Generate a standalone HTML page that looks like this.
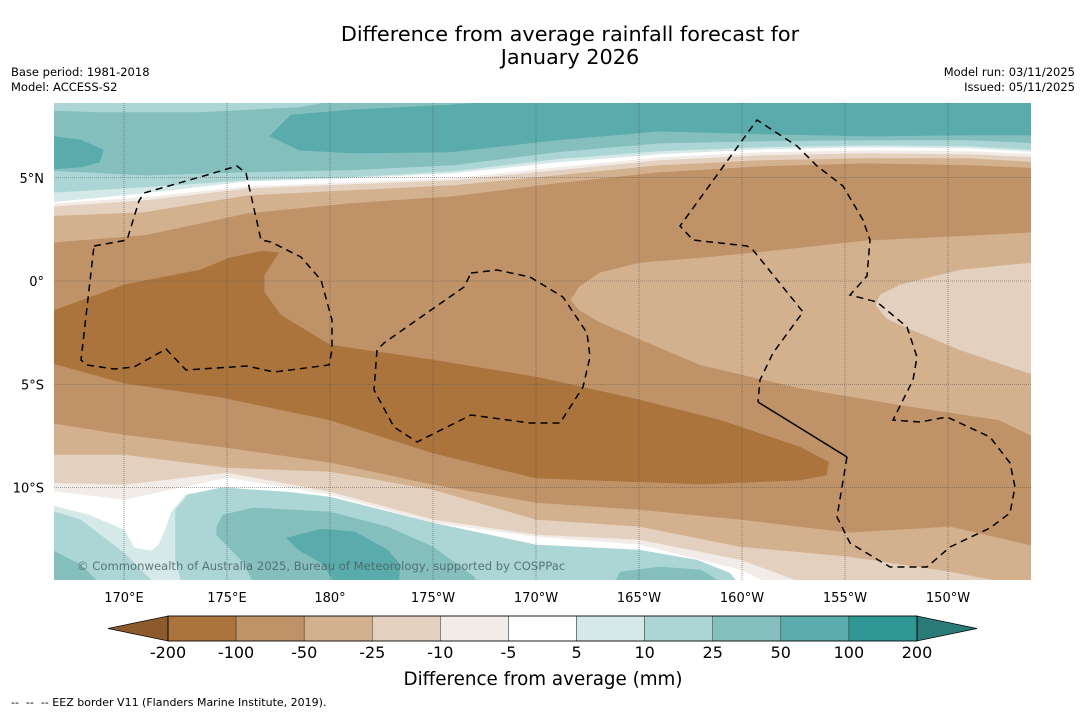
<!DOCTYPE html>
<html><head><meta charset="utf-8"><style>
body{margin:0;background:#fff;width:1085px;height:713px;overflow:hidden;font-family:"DejaVu Sans","Liberation Sans",sans-serif}
svg{position:absolute;left:0;top:0}
</style></head><body>
<svg id="chart" width="1085" height="713" viewBox="0 0 1085 713" font-family="DejaVu Sans, Liberation Sans, sans-serif">
<rect width="1085" height="713" fill="#fff"/>
<text x="570" y="41" font-size="20.8" text-anchor="middle">Difference from average rainfall forecast for</text>
<text x="570" y="64" font-size="20.8" text-anchor="middle">January 2026</text>
<text x="11" y="76" font-size="11.5">Base period: 1981-2018</text>
<text x="11" y="91" font-size="11.5">Model: ACCESS-S2</text>
<text x="1075" y="76" font-size="11.5" text-anchor="end">Model run: 03/11/2025</text>
<text x="1075" y="91" font-size="11.5" text-anchor="end">Issued: 05/11/2025</text>
<defs><clipPath id="mapclip"><rect x="54" y="103" width="977" height="477"/></clipPath></defs>
<g id="map" clip-path="url(#mapclip)"></g>
<g id="overlay" clip-path="url(#mapclip)" fill="none" stroke="#000" stroke-width="1.5">
<path stroke-dasharray="7,5" d="M94,246 L127,240 L139,201 L144,193 L207,175 L237,166 L246,173 L261,240 L271,242 L301,257 L321,280 L332,320 L332,350 L329,365 L274,372 L247,366 L186,370 L166,349 L134,367 L114,369 L87,365 L81,360 Z"/>
<path stroke-dasharray="7,5" d="M471,273 L497,270 L530,277 L563,297 L587,333 L590,357 L583,387 L560,423 L530,423 L471,415 L417,442 L394,427 L374,390 L377,350 L384,343 L464,287 Z"/>
<path stroke-dasharray="7,5" d="M847,457 L837,517 L850,543 L890,567 L927,567 L950,547 L990,528 L1010,513 L1015,487 L1010,463 L990,437 L947,417 L920,422 L893,420 L913,380 L917,357 L907,327 L877,302 L850,295 L867,276 L870,240 L863,220 L843,186 L817,166 L797,146 L757,120 L680,226 L693,240 L747,246 L753,250 L803,312 L773,353 L760,380 L758,402"/>
<path d="M758,402 L847,457"/>
</g>
<text x="77" y="570" font-size="11.6" fill="#4a6464" fill-opacity="0.85">© Commonwealth of Australia 2025, Bureau of Meteorology, supported by COSPPac</text>
<g id="axes" font-size="13"></g>
<g id="colorbar"></g>
<text x="543" y="685" font-size="18.3" text-anchor="middle">Difference from average (mm)</text>
<text x="11" y="706" font-size="11" xml:space="preserve">--  --  -- EEZ border V11 (Flanders Marine Institute, 2019).</text>
</svg>
<script>
// ---- data ----
const northLons = [166,171,176,181,186,191,196,201,206,211,214.5];
const north_m50 = [1.84,2.23,3.29,3.78,4.12,4.75,5.28,5.57,5.71,5.62,5.47];
const north_m25 = [3.15,3.34,4.16,4.41,4.65,5.13,5.62,5.86,5.96,5.96,5.76];
const north_m10 = [3.58,3.92,4.50,4.70,4.89,5.38,5.86,6.10,6.20,6.15,6.00];
const north_m5  = [3.73,4.07,4.60,4.79,4.99,5.52,6.00,6.25,6.34,6.30,6.15];
const north_p5  = [3.78,4.26,4.84,4.99,5.23,5.76,6.15,6.39,6.49,6.44,6.25];
const north_p10 = [4.26,4.55,4.89,5.04,5.33,5.91,6.30,6.49,6.59,6.54,6.34];
const north_p25 = [5.38,5.13,5.28,5.38,5.62,6.25,6.68,6.78,6.83,6.83,6.68];
const southLons = [166,170,175,180,185,190,195,199.9,205.2,210.1,214.5];
const south_m50 = [-6.83,-7.46,-8.09,-8.81,-9.88,-10.75,-11.09,-11.57,-12.20,-11.91,-12.93];
const south_m25 = [-8.43,-8.43,-9.06,-9.25,-10.12,-11.57,-11.91,-12.88,-13.37,-14.09,-14.96];
const south_m10 = [-9.78,-9.88,-9.30,-10.22,-11.57,-12.30,-12.54,-13.51,-15.45,-16.42,-16.42];
const south_m5  = [-10.12,-10.61,-9.54,-10.36,-11.72,-12.40,-12.78,-13.99,-16.5,-16.5,-16.5];
const topPatch = [[166,8.7],[180,8.7],[178.5,8.43],[173.7,8.19],[168.8,8.19],[166,8.28]];
const northBand100 = [[177.1,7.02],[178.1,8.04],[181,8.28],[185.8,8.52],[188.3,8.7],[214.5,8.7],[214.5,7.07],[211,7.07],[206,7.02],[201,7.12],[196,7.26],[191,6.83],[185.8,6.25],[181,6.2],[178.5,6.34]];
const northBlob100 = [[166,7.07],[167.9,6.83],[169,6.34],[168.8,5.76],[167.9,5.52],[166,5.38]];
const tongue50 = [[214.5,2.37],[211,2.18],[206,1.94],[201,1.40],[198,1.11],[195,0.87],[193.1,0.39],[192.1,-0.29],[191.7,-0.92],[192.1,-1.40],[193.1,-1.99],[198,-4.07],[202.8,-5.18],[207.7,-6.00],[212.5,-6.73],[214.5,-7.70]];
const blob25 = [[214.5,0.92],[210.6,0.53],[207.7,-0.19],[206.7,-0.68],[206.5,-1.16],[207,-1.79],[207.7,-2.13],[210.6,-3.34],[214.5,-4.65]];
const core200 = [[166,-1.65],[170,-0.19],[173.7,0.53],[175.1,1.11],[176.7,1.45],[177.5,1.36],[176.8,0.29],[176.8,-0.53],[177.6,-1.65],[180,-3.10],[185,-3.83],[190,-4.65],[195,-5.76],[198.9,-6.73],[202.8,-8.04],[204.2,-8.77],[204.1,-9.39],[202.8,-9.64],[198,-9.83],[190,-9.54],[185,-8.33],[180,-6.73],[174.7,-5.62],[170,-4.94],[166,-3.83]];
const south5 = [[166,-10.75],[168.3,-11.33],[170,-12.06],[170.5,-12.93],[171.3,-13.08],[171.7,-12.78],[172,-12.06],[172.3,-11.19],[173,-10.36],[175,-9.98],[180,-10.61],[185,-12.06],[190,-12.88],[195,-13.37],[198,-13.90],[200.1,-14.96],[166,-14.96]];
const south10a = [[166,-10.99],[167.9,-11.57],[170,-13.17],[171.3,-14.48],[171.5,-15],[166,-15]];
const south10b = [[172.5,-11.09],[173.1,-10.36],[174.7,-10.02],[177.9,-10.22],[180,-10.46],[185,-11.72],[190,-12.78],[195,-13.03],[197.8,-13.51],[199.4,-14.14],[200.1,-14.96],[172.9,-14.96],[172.5,-13.51]];
const south25a = [[166,-12.78],[167.9,-13.75],[169.1,-14.96],[166,-14.96]];
const south25b = [[193.6,-14.96],[194.1,-14.09],[196,-13.85],[198,-13.99],[199.6,-14.96]];
const south25c = [[174.5,-11.91],[174.8,-11.33],[176.3,-10.99],[180,-11.19],[182.8,-11.91],[185,-12.88],[187,-14.33],[187.3,-14.96],[176.5,-14.96],[175.7,-13.51],[174.5,-12.30]];
const south50 = [[177.9,-12.45],[179.6,-12.01],[181.2,-12.15],[182.8,-13.03],[183.4,-13.75],[183.3,-14.96],[180.5,-14.96],[179.6,-13.66],[178.5,-13.03]];
const lonTicks = [170,175,180,185,190,195,200,205,210];
const lonTickLabels = ["170°E","175°E","180°","175°W","170°W","165°W","160°W","155°W","150°W"];
const latTicks = [5,0,-5,-10];
const latTickLabels = ["5°N","0°","5°S","10°S"];
const cbLevels = ["-200","-100","-50","-25","-10","-5","5","10","25","50","100","200"];
const cbColors = ["#ab743d","#bf9268","#d3b18f","#e4d0bf","#f2ece8","#ffffff","#d5e9e8","#acd6d5","#84bfbe","#5aabab","#2f9895"];
const cbUnder = "#8d5a2e", cbOver = "#2a7a77";

// ---- projection ----
const X = lon => 124 + (lon - 170) * 20.6;
const Y = lat => 281 - lat * 20.65;
const NS = 'http://www.w3.org/2000/svg';
const map = document.getElementById('map');
function poly(pts, fill, name) {
  const p = document.createElementNS(NS, 'polygon');
  p.setAttribute('points', pts.map(q => X(q[0]).toFixed(1) + ',' + Y(q[1]).toFixed(1)).join(' '));
  p.setAttribute('fill', fill);
  p.setAttribute('stroke', fill);
  p.setAttribute('stroke-width', '0.6');
  
  
  map.appendChild(p);
}
function curvePts(lons, lats, capLat) {
  const pts = [[lons[0], capLat]];
  lons.forEach((l, i) => pts.push([l, lats[i]]));
  pts.push([lons[lons.length - 1], capLat]);
  return pts;
}
const bg = document.createElementNS(NS, 'rect');
bg.setAttribute('x', 54); bg.setAttribute('y', 103); bg.setAttribute('width', 977); bg.setAttribute('height', 477);
bg.setAttribute('fill', '#bf9268');


map.appendChild(bg);
// north
poly(curvePts(northLons, north_m50, 10), '#d3b18f', 'north-band-m50');
poly(curvePts(northLons, north_m25, 10), '#e4d0bf', 'north-band-m25');
poly(curvePts(northLons, north_m10, 10), '#f2ece8', 'north-band-m10');
poly(curvePts(northLons, north_m5, 10), '#ffffff', 'north-band-m5');
poly(curvePts(northLons, north_p5, 10), '#d5e9e8', 'north-band-p5');
poly(curvePts(northLons, north_p10, 10), '#acd6d5', 'north-band-p10');
poly(curvePts(northLons, north_p25, 10), '#84bfbe', 'north-band-p25');
poly(topPatch, '#acd6d5', 'north-patch-p10');
poly(northBand100, '#5aabab', 'north-band-p50');
poly(northBlob100, '#5aabab', 'north-blob-p50');
// middle
poly(tongue50, '#d3b18f', 'central-tongue-m50');
poly(blob25, '#e4d0bf', 'east-blob-m25');
poly(core200, '#ab743d', 'dry-core-m100');
// south
poly(curvePts(southLons, south_m50, -17), '#d3b18f', 'south-band-m50');
poly(curvePts(southLons, south_m25, -17), '#e4d0bf', 'south-band-m25');
poly(curvePts(southLons, south_m10, -17), '#f2ece8', 'south-band-m10');
poly(curvePts(southLons, south_m5, -17), '#ffffff', 'south-band-m5');
poly(south5, '#d5e9e8', 'south-region-p5');
poly(south10a, '#acd6d5', 'south-west-p10');
poly(south10b, '#acd6d5', 'south-central-p10');
poly(south25a, '#84bfbe', 'south-west-p25');
poly(south25b, '#84bfbe', 'south-east-p25');
poly(south25c, '#84bfbe', 'south-central-p25');
poly(south50, '#5aabab', 'south-core-p50');
// gridlines
lonTicks.forEach(l => {
  const g = document.createElementNS(NS, 'line');
  g.setAttribute('x1', X(l)); g.setAttribute('x2', X(l)); g.setAttribute('y1', 103); g.setAttribute('y2', 580);
  g.setAttribute('stroke', '#555'); g.setAttribute('stroke-width', '0.6'); g.setAttribute('stroke-dasharray', '1,1');
  
  
  map.appendChild(g);
});
latTicks.forEach(l => {
  const g = document.createElementNS(NS, 'line');
  g.setAttribute('x1', 54); g.setAttribute('x2', 1031); g.setAttribute('y1', Y(l)); g.setAttribute('y2', Y(l));
  g.setAttribute('stroke', '#555'); g.setAttribute('stroke-width', '0.6'); g.setAttribute('stroke-dasharray', '1,1');
  
  
  map.appendChild(g);
});
// axis labels
const axes = document.getElementById('axes');
lonTicks.forEach((l, i) => {
  const t = document.createElementNS(NS, 'text');
  t.setAttribute('x', X(l)); t.setAttribute('y', 602); t.setAttribute('text-anchor', 'middle');
  t.textContent = lonTickLabels[i];
  
  
  axes.appendChild(t);
});
latTicks.forEach((l, i) => {
  const t = document.createElementNS(NS, 'text');
  t.setAttribute('x', 44); t.setAttribute('y', Y(l) + 5); t.setAttribute('text-anchor', 'end');
  t.textContent = latTickLabels[i];
  
  
  axes.appendChild(t);
});
// colorbar
const cb = document.getElementById('colorbar');
const cbX0 = 168, cbX1 = 917, cbY = 616, cbH = 25;
const cbW = (cbX1 - cbX0) / cbColors.length;
cbColors.forEach((c, i) => {
  const r = document.createElementNS(NS, 'rect');
  r.setAttribute('x', cbX0 + i * cbW); r.setAttribute('y', cbY); r.setAttribute('width', cbW); r.setAttribute('height', cbH);
  r.setAttribute('fill', c); r.setAttribute('stroke', '#333'); r.setAttribute('stroke-width', '0.5');
  
  
  cb.appendChild(r);
});
const under = document.createElementNS(NS, 'polygon');
under.setAttribute('points', `${cbX0},${cbY} ${cbX0},${cbY + cbH} 108,${cbY + cbH / 2}`);
under.setAttribute('fill', cbUnder); under.setAttribute('stroke', '#000'); under.setAttribute('stroke-width', '0.7');


cb.appendChild(under);
const over = document.createElementNS(NS, 'polygon');
over.setAttribute('points', `${cbX1},${cbY} ${cbX1},${cbY + cbH} 977,${cbY + cbH / 2}`);
over.setAttribute('fill', cbOver); over.setAttribute('stroke', '#000'); over.setAttribute('stroke-width', '0.7');


cb.appendChild(over);
const frame = document.createElementNS(NS, 'rect');
frame.setAttribute('x', cbX0); frame.setAttribute('y', cbY); frame.setAttribute('width', cbX1 - cbX0); frame.setAttribute('height', cbH);
frame.setAttribute('fill', 'none'); frame.setAttribute('stroke', '#000'); frame.setAttribute('stroke-width', '0.8');


cb.appendChild(frame);
cbLevels.forEach((lv, i) => {
  const t = document.createElementNS(NS, 'text');
  t.setAttribute('x', cbX0 + i * cbW); t.setAttribute('y', 658); t.setAttribute('text-anchor', 'middle');
  t.setAttribute('font-size', '16');
  t.textContent = lv;
  
  
  cb.appendChild(t);
});
</script>
</body></html>
